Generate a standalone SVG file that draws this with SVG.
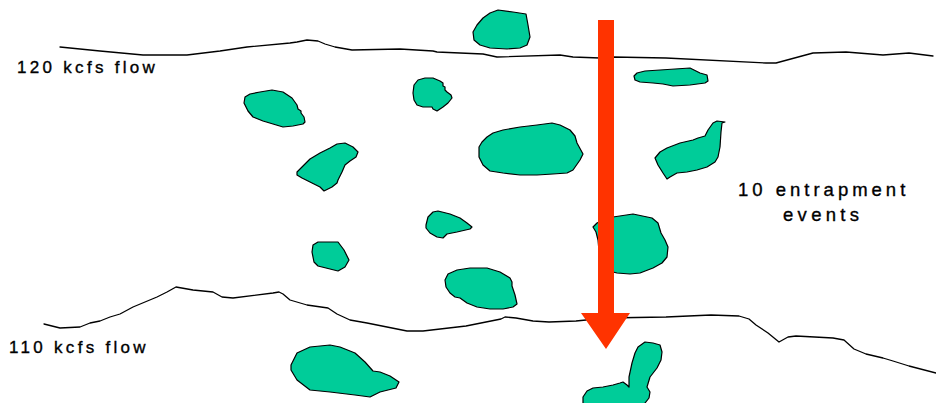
<svg xmlns="http://www.w3.org/2000/svg" width="936" height="403" viewBox="0 0 936 403">
<style>
.blob{fill:#00CC99;stroke:#000;stroke-width:1.2;stroke-linejoin:round}
.shore{fill:none;stroke:#000;stroke-width:1.3;stroke-linejoin:round;stroke-linecap:round}
.lbl{font-family:"Liberation Sans",Arial,sans-serif;fill:#000;stroke:#000;stroke-width:0.35}
.arrow{fill:#FF3300}
</style>
<rect width="936" height="403" fill="#fff"/>
<g id="shorelines">
<path class="shore" d="M60,47 L100,51 L143,55 L187,55 L220,51 L247,47 L290,43 L297,42 L307,40 L318,41 L325,44 L335,47 L352,50 L400,49 L433,51 L437,52 L483,54 L497,57 L560,55 L573,57 L600,58 L613,57 L666,58 L766,63 L776,63 L813,53 L846,52 L883,55 L909,53 L933,56"/>
<path class="shore" d="M44,324 L60,328 L80,327 L90,323 L100,321 L110,317 L120,314 L133,307 L157,297 L167,292 L176,287 L193,290 L213,292 L222,297 L233,298 L273,293 L279,292 L283,294 L290,300 L307,305 L328,308 L337,314 L350,320 L367,323 L387,327 L407,331 L423,331 L466,326 L486,322 L501,319 L505,317 L516,318 L533,321 L549,322 L576,321 L606,318 L666,317 L711,315 L739,316 L749,319 L756,325 L768,333 L779,342 L788,337 L796,336 L833,338 L844,340 L854,349 L866,354 L883,358 L893,361 L909,366 L936,373"/>
</g>
<g id="blob-a"><path class="blob" d="M245,97 L250,94 L260,92 L272,90 L283,92 L292,98 L297,105 L298,109 L301,111 L301,113 L304,117 L305,122 L303,124 L293,126 L283,127 L273,124 L263,121 L253,117 L248,111 L244,103 Z"/></g>
<g id="blob-b"><path class="blob" d="M414,85 L418,80 L425,78 L433,78 L440,81 L443,83 L443,86 L445,87 L445,90 L447,92 L451,95 L452,98 L448,103 L443,107 L437,111 L433,109 L432,107 L423,107 L417,105 L414,100 L413,93 Z"/></g>
<g id="blob-c"><path class="blob" d="M297,172 L302,167 L310,159 L320,153 L330,148 L337,144 L345,143 L353,147 L358,152 L356,157 L350,161 L345,165 L342,172 L338,180 L337,183 L332,187 L324,191 L320,187 L310,182 L302,178 L297,175 Z"/></g>
<g id="blob-d"><path class="blob" d="M473,32 L477,25 L483,18 L490,13 L498,10 L513,12 L526,14 L528,25 L530,37 L527,45 L520,48 L507,49 L490,48 L480,45 L474,40 Z"/></g>
<g id="blob-e"><path class="blob" d="M634,76 L637,73 L645,71 L660,70 L675,69 L690,68 L700,73 L707,75 L708,81 L705,83 L690,85 L673,86 L663,84 L653,83 L640,82 L635,80 Z"/></g>
<g id="blob-f"><path class="blob" d="M479,147 L482,142 L487,137 L493,133 L503,130 L520,127 L537,125 L552,123 L560,125 L570,130 L575,136 L577,143 L583,154 L580,160 L573,170 L567,173 L553,174 L537,175 L520,175 L503,173 L490,171 L483,165 L479,157 Z"/></g>
<g id="blob-g"><path class="blob" d="M655,158 L660,152 L667,148 L680,143 L693,140 L698,138 L705,136 L708,130 L713,123 L717,121 L725,122 L722,123 L721,132 L720,147 L718,157 L715,162 L707,167 L697,170 L687,172 L677,173 L670,177 L667,179 L663,173 L658,165 Z"/></g>
<g id="blob-h"><path class="blob" d="M313,245 L318,242 L338,242 L344,250 L349,260 L345,267 L338,271 L330,269 L318,266 L314,262 L312,252 Z"/></g>
<g id="blob-i"><path class="blob" d="M426,225 L428,217 L433,212 L438,211 L450,214 L460,218 L467,223 L472,227 L470,229 L457,232 L447,234 L443,238 L437,237 L430,233 L426,228 Z"/></g>
<g id="blob-j"><path class="blob" d="M445,280 L448,274 L457,270 L470,268 L487,268 L500,272 L510,278 L512,282 L512,286 L515,295 L517,304 L513,307 L503,309 L490,309 L477,307 L467,303 L460,298 L455,297 L450,293 L446,287 Z"/></g>
<g id="blob-k"><path class="blob" d="M291,365 L297,353 L310,347 L330,345 L340,347 L355,353 L365,362 L373,371 L380,372 L390,376 L399,382 L396,388 L380,392 L370,397 L355,395 L330,392 L310,390 L297,380 L291,370 Z"/></g>
<g id="blob-l"><path class="blob" d="M593,227 L597,223 L605,219 L613,217 L633,214 L652,218 L658,223 L661,233 L665,240 L668,247 L667,257 L662,263 L653,268 L640,273 L630,274 L617,273 L605,270 L600,262 L598,240 L596,232 Z"/></g>
<g id="blob-m"><path class="blob" d="M583,397 L587,391 L593,388 L603,387 L613,385 L620,383 L623,382 L627,385 L629,387 L629,377 L632,363 L635,353 L638,347 L645,342 L653,343 L660,345 L662,352 L661,360 L657,368 L650,377 L647,387 L650,392 L649,398 L645,403 L642,408 L583,408 Z"/></g>
<g id="arrow">
<path class="arrow" d="M598,20 L614,20 L614,313 L630,313 L606,349 L581,313 L598,313 Z"/>
</g>
<g id="labels">
<text class="lbl" x="17" y="73" font-size="17" letter-spacing="3.3">120 kcfs flow</text>
<text class="lbl" x="9" y="353" font-size="17" letter-spacing="3.3">110 kcfs flow</text>
<text class="lbl" x="738" y="196" font-size="18.5" letter-spacing="4">10 entrapment</text>
<text class="lbl" x="783" y="221" font-size="18.5" letter-spacing="4.3">events</text>
</g>
</svg>
